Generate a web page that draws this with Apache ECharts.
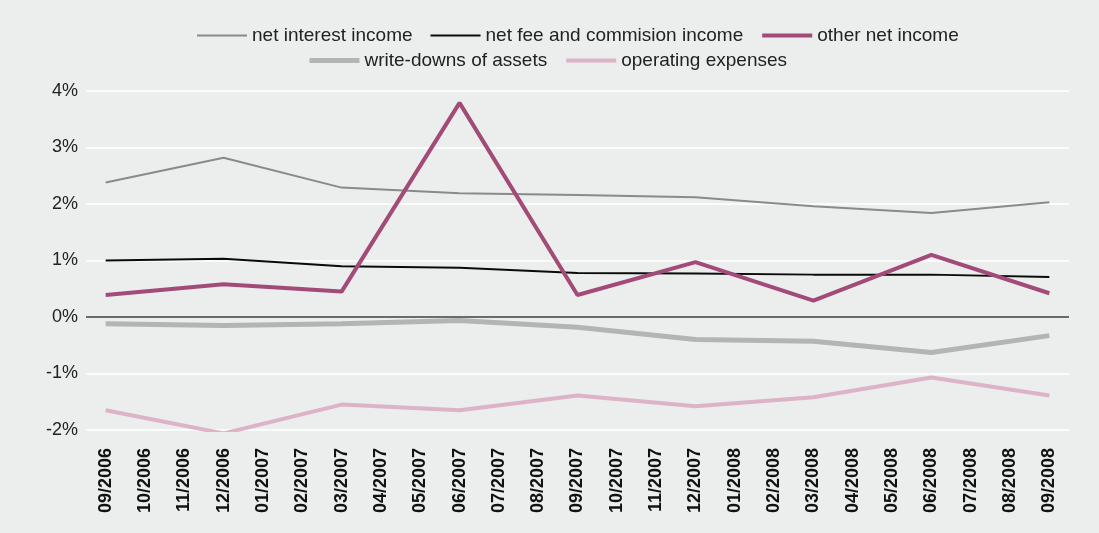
<!DOCTYPE html>
<html>
<head>
<meta charset="utf-8">
<script src="https://cdn.jsdelivr.net/npm/echarts@6/dist/echarts.min.js"></script>
<style>
  html, body { margin: 0; padding: 0; background: #eceded; }
  #chart { width: 1099px; height: 533px; }
</style>
</head>
<body>
<div id="chart"></div>
<script>
// Monthly axis categories
const months = [
  '09/2006','10/2006','11/2006','12/2006','01/2007','02/2007','03/2007','04/2007','05/2007',
  '06/2007','07/2007','08/2007','09/2007','10/2007','11/2007','12/2007','01/2008','02/2008',
  '03/2008','04/2008','05/2008','06/2008','07/2008','08/2008','09/2008'
];
// Quarter-end reporting dates (values exist only for these)
const quarters = ['09/2006','12/2006','03/2007','06/2007','09/2007','12/2007','03/2008','06/2008','09/2008'];

// Values in % of assets
const netInterestIncome = [2.38, 2.82, 2.29, 2.19, 2.16, 2.12, 1.96, 1.84, 2.03];
const netFeeIncome      = [1.00, 1.03, 0.90, 0.87, 0.78, 0.77, 0.75, 0.75, 0.71];
const otherNetIncome    = [0.39, 0.58, 0.45, 3.79, 0.39, 0.97, 0.29, 1.10, 0.42];
const writeDowns        = [-0.12, -0.15, -0.12, -0.06, -0.18, -0.40, -0.43, -0.63, -0.33];
const operatingExpenses = [-1.65, -2.06, -1.55, -1.65, -1.39, -1.58, -1.42, -1.07, -1.39];

const yTicks = { min: -2, max: 4, interval: 1 };

const pairs = vals => quarters.map((q, i) => [q, vals[i]]);

const font = 'Liberation Sans, Arial, Helvetica, sans-serif';

const styles = {
  'net interest income':          { color: '#8a8a8a', width: 2 },
  'net fee and commision income': { color: '#0a0a0a', width: 2 },
  'other net income':             { color: '#a24a78', width: 4 },
  'write-downs of assets':        { color: '#b3b4b4', width: 5 },
  'operating expenses':           { color: '#dcb3c7', width: 4 }
};

function line(name, vals, extra) {
  const s = styles[name];
  return Object.assign({
    name: name,
    type: 'line',
    data: pairs(vals),
    connectNulls: true,
    symbol: 'none',
    lineStyle: { color: s.color, width: s.width },
    itemStyle: { color: s.color }
  }, extra || {});
}

// Legend entries drawn as plain strokes at the series' own widths
const legendItem = name => ({
  name: name,
  itemStyle: { opacity: 0 },
  lineStyle: { color: styles[name].color, width: styles[name].width }
});

const legendBase = {
  itemWidth: 50, itemHeight: 10, itemGap: 17,
  textStyle: { fontSize: 19, color: '#222', fontFamily: font }
};

const chart = echarts.init(document.getElementById('chart'), null, { renderer: 'canvas' });
chart.setOption({
  backgroundColor: '#eceded',
  animation: false,
  textStyle: { fontFamily: font },
  legend: [
    Object.assign({ top: 21, left: 191, data: ['net interest income', 'net fee and commision income', 'other net income'].map(legendItem) }, legendBase),
    Object.assign({ top: 46, left: 302, data: ['write-downs of assets', 'operating expenses'].map(legendItem) }, legendBase)
  ],
  grid: { left: 86, right: 30, top: 91, bottom: 103 },
  xAxis: {
    type: 'category',
    data: months,
    boundaryGap: true,
    axisLine: { show: false },
    axisTick: { show: false },
    axisLabel: {
      interval: 0, rotate: 90, margin: 18,
      fontSize: 18, fontWeight: 'bold', color: '#111', fontFamily: font
    }
  },
  yAxis: {
    type: 'value',
    min: yTicks.min, max: yTicks.max, interval: yTicks.interval,
    axisLine: { show: false },
    axisTick: { show: false },
    axisLabel: {
      formatter: '{value}%', fontSize: 18, color: '#222', margin: 8, fontFamily: font
    },
    splitLine: { lineStyle: { color: '#ffffff', width: 1.5 } }
  },
  series: [
    line('write-downs of assets', writeDowns, {
      markLine: {
        silent: true, symbol: 'none', label: { show: false },
        lineStyle: { color: '#3a3a3a', width: 1.5, type: 'solid' },
        data: [{ yAxis: 0 }]
      }
    }),
    line('operating expenses', operatingExpenses),
    line('net interest income', netInterestIncome),
    line('net fee and commision income', netFeeIncome),
    line('other net income', otherNetIncome)
  ]
});
</script>
</body>
</html>
